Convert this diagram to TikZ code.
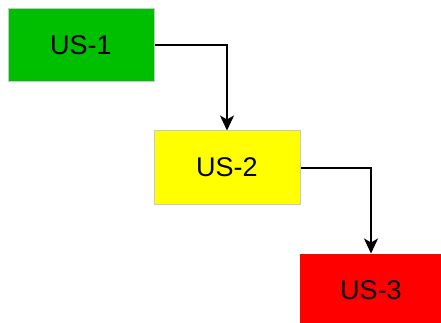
\documentclass[tikz,border=0pt]{standalone}
\usepackage{fontspec}
\setmainfont{Liberation Sans}
\usetikzlibrary{arrows.meta}
\definecolor{usgreen}{RGB}{0,190,0}
\definecolor{usyellow}{RGB}{255,255,0}
\definecolor{usred}{RGB}{255,0,0}
\tikzset{
    storybox/.style={rectangle, draw=black!22, line width=1pt, minimum width=146pt, minimum height=73pt, inner sep=0pt, font=\fontsize{27}{32}\selectfont},
    flow/.style={line width=2pt, -{Stealth[length=15pt, width=14pt, inset=4pt]}}
}
\begin{document}
\begin{tikzpicture}[x=1pt, y=-1pt]
        \useasboundingbox (0, 0) rectangle (441, 323);

        \node[storybox, fill=usgreen] (us1) at (81, 45) {US-1};
        \node[storybox, fill=usyellow] (us2) at (227, 167.5) {US-2};
        \node[storybox, fill=usred, draw=usred, minimum width=142pt] (us3) at (371, 290.5) {US-3};

        \draw[flow] (us1.east) -| (us2.north);
        \draw[flow] (us2.east) -| (us3.north);

    \end{tikzpicture}
\end{document}
